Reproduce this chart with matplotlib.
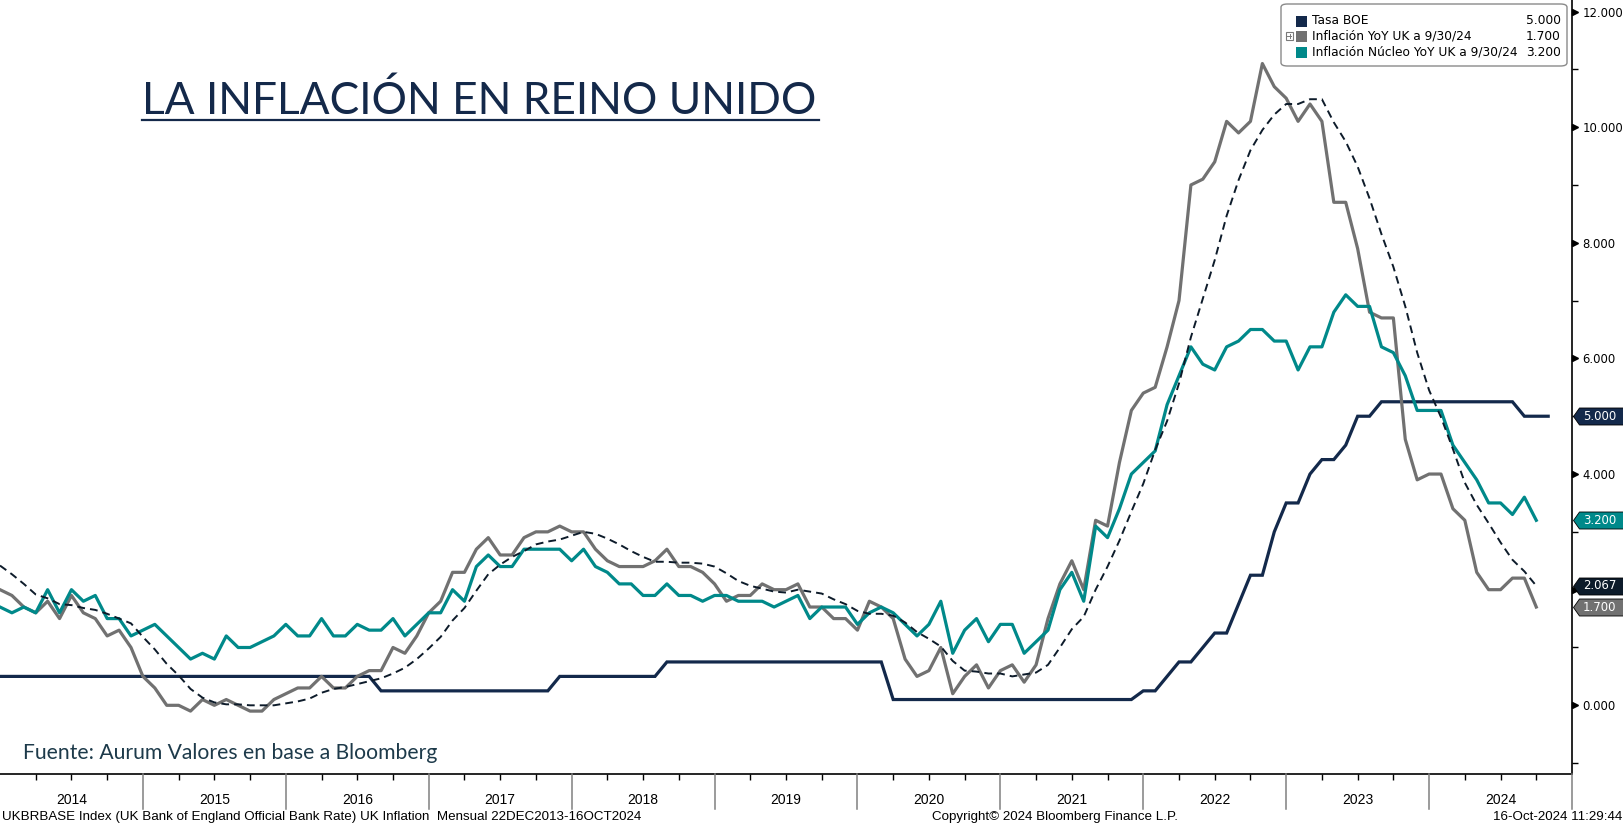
import matplotlib
matplotlib.use('Agg')
import matplotlib.pyplot as plt
from matplotlib import transforms
from matplotlib.patches import FancyBboxPatch, Rectangle
from matplotlib.lines import Line2D
from matplotlib.path import Path
import numpy as np

# ---------------- data (month-end values, Dec-2013 .. Sep-2024) ----------------
start_year = 2014.0  # Dec-31-2013 position
years = [2014, 2015, 2016, 2017, 2018, 2019, 2020, 2021, 2022, 2023, 2024]

boe_rate = ([0.5]
            + [0.5] * 12
            + [0.5] * 12
            + [0.5] * 7 + [0.25] * 5
            + [0.25] * 10 + [0.5, 0.5]
            + [0.5] * 7 + [0.75] * 5
            + [0.75] * 12
            + [0.75, 0.75] + [0.1] * 10
            + [0.1] * 11 + [0.25]
            + [0.25, 0.5, 0.75, 0.75, 1.0, 1.25, 1.25, 1.75, 2.25, 2.25, 3.0, 3.5]
            + [3.5, 4.0, 4.25, 4.25, 4.5, 5.0, 5.0, 5.25, 5.25, 5.25, 5.25, 5.25]
            + [5.25] * 7 + [5.0, 5.0, 5.0])          # last point = Oct-2024

cpi_yoy = [2.0,
           1.9, 1.7, 1.6, 1.8, 1.5, 1.9, 1.6, 1.5, 1.2, 1.3, 1.0, 0.5,
           0.3, 0.0, 0.0, -0.1, 0.1, 0.0, 0.1, 0.0, -0.1, -0.1, 0.1, 0.2,
           0.3, 0.3, 0.5, 0.3, 0.3, 0.5, 0.6, 0.6, 1.0, 0.9, 1.2, 1.6,
           1.8, 2.3, 2.3, 2.7, 2.9, 2.6, 2.6, 2.9, 3.0, 3.0, 3.1, 3.0,
           3.0, 2.7, 2.5, 2.4, 2.4, 2.4, 2.5, 2.7, 2.4, 2.4, 2.3, 2.1,
           1.8, 1.9, 1.9, 2.1, 2.0, 2.0, 2.1, 1.7, 1.7, 1.5, 1.5, 1.3,
           1.8, 1.7, 1.5, 0.8, 0.5, 0.6, 1.0, 0.2, 0.5, 0.7, 0.3, 0.6,
           0.7, 0.4, 0.7, 1.5, 2.1, 2.5, 2.0, 3.2, 3.1, 4.2, 5.1, 5.4,
           5.5, 6.2, 7.0, 9.0, 9.1, 9.4, 10.1, 9.9, 10.1, 11.1, 10.7, 10.5,
           10.1, 10.4, 10.1, 8.7, 8.7, 7.9, 6.8, 6.7, 6.7, 4.6, 3.9, 4.0,
           4.0, 3.4, 3.2, 2.3, 2.0, 2.0, 2.2, 2.2, 1.7]

core_yoy = [1.7,
            1.6, 1.7, 1.6, 2.0, 1.6, 2.0, 1.8, 1.9, 1.5, 1.5, 1.2, 1.3,
            1.4, 1.2, 1.0, 0.8, 0.9, 0.8, 1.2, 1.0, 1.0, 1.1, 1.2, 1.4,
            1.2, 1.2, 1.5, 1.2, 1.2, 1.4, 1.3, 1.3, 1.5, 1.2, 1.4, 1.6,
            1.6, 2.0, 1.8, 2.4, 2.6, 2.4, 2.4, 2.7, 2.7, 2.7, 2.7, 2.5,
            2.7, 2.4, 2.3, 2.1, 2.1, 1.9, 1.9, 2.1, 1.9, 1.9, 1.8, 1.9,
            1.9, 1.8, 1.8, 1.8, 1.7, 1.8, 1.9, 1.5, 1.7, 1.7, 1.7, 1.4,
            1.6, 1.7, 1.6, 1.4, 1.2, 1.4, 1.8, 0.9, 1.3, 1.5, 1.1, 1.4,
            1.4, 0.9, 1.1, 1.3, 2.0, 2.3, 1.8, 3.1, 2.9, 3.4, 4.0, 4.2,
            4.4, 5.2, 5.7, 6.2, 5.9, 5.8, 6.2, 6.3, 6.5, 6.5, 6.3, 6.3,
            5.8, 6.2, 6.2, 6.8, 7.1, 6.9, 6.9, 6.2, 6.1, 5.7, 5.1, 5.1,
            5.1, 4.5, 4.2, 3.9, 3.5, 3.5, 3.3, 3.6, 3.2]

cpi_ma6 = [2.417,
           2.267, 2.100, 1.917, 1.850, 1.750, 1.733, 1.683, 1.650, 1.583, 1.500, 1.417, 1.183,
           0.967, 0.717, 0.517, 0.283, 0.133, 0.050, 0.017, 0.017, 0.000, 0.000, 0.000, 0.033,
           0.067, 0.117, 0.217, 0.283, 0.317, 0.367, 0.417, 0.467, 0.550, 0.650, 0.800, 0.983,
           1.183, 1.467, 1.683, 1.983, 2.267, 2.433, 2.567, 2.667, 2.783, 2.833, 2.867, 2.933,
           3.000, 2.967, 2.883, 2.783, 2.667, 2.567, 2.483, 2.483, 2.467, 2.467, 2.450, 2.400,
           2.283, 2.150, 2.067, 2.017, 1.967, 1.950, 2.000, 1.967, 1.933, 1.833, 1.750, 1.633,
           1.583, 1.583, 1.550, 1.433, 1.267, 1.150, 1.017, 0.767, 0.600, 0.583, 0.550, 0.550,
           0.500, 0.533, 0.567, 0.700, 1.000, 1.317, 1.533, 2.000, 2.400, 2.850, 3.350, 3.833,
           4.417, 4.917, 5.567, 6.367, 7.033, 7.700, 8.467, 9.083, 9.600, 9.950, 10.217, 10.400,
           10.400, 10.483, 10.483, 10.083, 9.750, 9.317, 8.767, 8.150, 7.583, 6.900, 6.100, 5.450,
           4.983, 4.433, 3.850, 3.467, 3.150, 2.817, 2.517, 2.317, 2.067]

legend_labels = ['Tasa BOE', 'Inflación YoY UK a 9/30/24', 'Inflación Núcleo YoY UK a 9/30/24']
legend_values = ['5.000', '1.700', '3.200']
y_ticks = [0, 2, 4, 6, 8, 10, 12]
y_tick_labels = ['0.000', '', '4.000', '6.000', '8.000', '10.000', '12.000']  # 2.000 sits under a tag
y_minor = [-1, 1, 3, 5, 7, 9, 11]

# ---------------- style ----------------
C_BOE = '#13294b'
C_CPI = '#717171'
C_CORE = '#00898a'
C_MA = '#0d1b2a'
C_TITLE = '#14294a'
NARROW = ['Liberation Sans', 'DejaVu Sans']

W, H = 1624, 825
fig = plt.figure(figsize=(W / 100, H / 100), dpi=100)

def fx(p):
    return p / W

def fy(p):
    return 1 - p / H

AX_L, AX_R, AX_T, AX_B = 0, 1572, 0, 774
ax = fig.add_axes([fx(AX_L), fy(AX_B), fx(AX_R - AX_L), (AX_B - AX_T) / H])

def xpos(n):
    return start_year + np.arange(n) / 12.0

ax.plot(xpos(len(boe_rate)), boe_rate, color=C_BOE, lw=2.3, solid_joinstyle='miter', zorder=3)
ax.plot(xpos(len(cpi_yoy)), cpi_yoy, color=C_CPI, lw=2.3, zorder=4)
ax.plot(xpos(len(core_yoy)), core_yoy, color=C_CORE, lw=2.3, zorder=5)
ax.plot(xpos(len(cpi_ma6)), cpi_ma6, color=C_MA, lw=1.4, dashes=(4, 2.6), zorder=6)

ax.set_xlim(2014.0, 2025.0)
ax.set_ylim(-1.188, 12.199)

for s in ['left', 'top']:
    ax.spines[s].set_visible(False)
ax.spines['bottom'].set_color('black')
ax.spines['right'].set_color('black')
ax.spines['bottom'].set_linewidth(1.2)
ax.spines['right'].set_linewidth(1.2)

# y axis on the right
ax.yaxis.tick_right()
ax.set_yticks(y_ticks)
ax.set_yticklabels(y_tick_labels)
ax.set_yticks(y_minor, minor=True)
ax.tick_params(axis='y', which='major', length=0, pad=7.5, labelsize=8.4, labelcolor='black')
ax.tick_params(axis='y', which='minor', length=4, width=1, direction='out', color='black')
for t in ax.get_yticklabels():
    t.set_fontfamily('DejaVu Sans')

blend_ay = transforms.blended_transform_factory(ax.transAxes, ax.transData)
tri_tr = transforms.offset_copy(blend_ay, fig=fig, x=3.5, y=0, units='dots')
ax.plot([1.0] * len(y_ticks), y_ticks, linestyle='none', marker='>', ms=5, color='black',
        transform=tri_tr, clip_on=False, zorder=7)

# x axis: quarterly minor ticks, year separators and labels
quarters = [y + q for y in years for q in (0.25, 0.5, 0.75)]
ax.set_xticks([])
ax.set_xticks(quarters, minor=True)
ax.tick_params(axis='x', which='minor', length=4, width=1, direction='out', color='black')
ax.tick_params(axis='x', which='both', labelbottom=False)

blend_xf = transforms.blended_transform_factory(ax.transData, fig.transFigure)
for yr in years[1:] + [2025]:
    fig.add_artist(Line2D([yr, yr], [fy(AX_B), fy(809)], transform=blend_xf,
                          color='#808080', lw=1.1))
for yr in years:
    fig.text(yr + 0.5, fy(800), str(yr), transform=blend_xf, ha='center', va='center',
             fontsize=10, family=NARROW, color='black')

# last-value tags on the right axis
tag_path = Path([(0, 0), (6, 8.5), (62, 8.5), (62, -8.5), (6, -8.5), (0, 0)],
                [Path.MOVETO, Path.LINETO, Path.LINETO, Path.LINETO, Path.LINETO, Path.CLOSEPOLY])
tag_tr = transforms.offset_copy(blend_ay, fig=fig, x=1.5, y=0, units='dots')
tags = [(boe_rate[-1], C_BOE), (core_yoy[-1], C_CORE), (cpi_ma6[-1], C_MA), (cpi_yoy[-1], C_CPI)]
for val, col in tags:
    ax.plot([1.0], [val], linestyle='none', marker=tag_path, ms=62 * 2 * 0.72,
            mfc=col, mec='black', mew=0.6, transform=tag_tr, clip_on=False, zorder=8)
    ax.annotate(f'{val:.3f}', xy=(1.0, val), xycoords=blend_ay, xytext=(11, 0),
                textcoords='offset pixels', ha='left', va='center', color='white',
                fontsize=8.4, family='DejaVu Sans', zorder=9, annotation_clip=False)

# legend box
fig.add_artist(FancyBboxPatch((fx(1281), fy(66)), fx(1567 - 1281), (66 - 4) / H,
                              boxstyle='round,pad=0,rounding_size=0.004',
                              transform=fig.transFigure, facecolor='white',
                              edgecolor='#8a8a8a', lw=1.0, zorder=10))
rows_y = [21, 36, 52]
cols = [C_BOE, C_CPI, C_CORE]
for lab, val, col, ry in zip(legend_labels, legend_values, cols, rows_y):
    fig.add_artist(Rectangle((fx(1296), fy(ry + 5.5)), fx(11), 11 / H,
                             transform=fig.transFigure, facecolor=col, edgecolor='none', zorder=11))
    fig.text(fx(1312), fy(ry), lab, ha='left', va='center', fontsize=8.8,
             family='DejaVu Sans', color='black', zorder=11)
    fig.text(fx(1561), fy(ry), val, ha='right', va='center', fontsize=8.8,
             family='DejaVu Sans', color='black', zorder=11)
# small expand icon beside the second row
fig.add_artist(Rectangle((fx(1286), fy(39.5)), fx(7), 7 / H, transform=fig.transFigure,
                         facecolor='white', edgecolor='#7a7a7a', lw=0.8, zorder=11))
fig.add_artist(Line2D([fx(1287.5), fx(1291.5)], [fy(36), fy(36)], transform=fig.transFigure,
                      color='#7a7a7a', lw=0.7, zorder=12))
fig.add_artist(Line2D([fx(1289.5), fx(1289.5)], [fy(34), fy(38)], transform=fig.transFigure,
                      color='#7a7a7a', lw=0.7, zorder=12))

# title and source
fig.text(fx(142), fy(114), 'LA INFLACIÓN EN REINO UNIDO', ha='left', va='baseline',
         fontsize=31.9, family=['Lato', 'DejaVu Sans'], color=C_TITLE)
fig.add_artist(Line2D([fx(142), fx(819)], [fy(120), fy(120)], transform=fig.transFigure,
                      color=C_TITLE, lw=1.6))
fig.text(fx(23), fy(753), 'Fuente: Aurum Valores en base a Bloomberg', ha='left', va='center',
         fontsize=15.2, family=['Lato', 'DejaVu Sans'], color='#1d3a4a')

# footer
fig.text(fx(2), fy(817), 'UKBRBASE Index (UK Bank of England Official Bank Rate) UK Inflation  '
         'Mensual 22DEC2013-16OCT2024', ha='left', va='center', fontsize=9.6, family=NARROW)
fig.text(fx(932), fy(817), 'Copyright\u00a9 2024 Bloomberg Finance L.P.', ha='left', va='center',
         fontsize=9.6, family=NARROW)
fig.text(fx(1622), fy(817), '16-Oct-2024 11:29:44', ha='right', va='center', fontsize=9.6,
         family=NARROW)

fig.savefig('out.png', dpi=100, facecolor='white')
